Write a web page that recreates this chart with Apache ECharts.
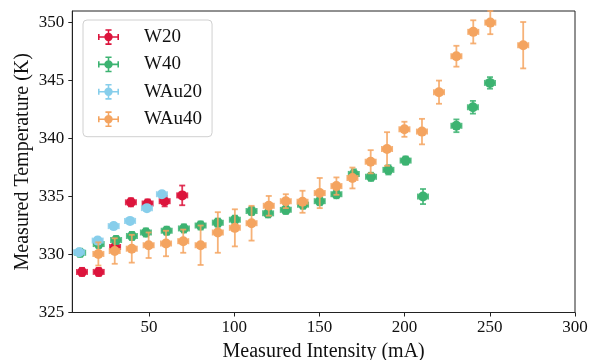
<!DOCTYPE html>
<html>
<head>
<meta charset="utf-8">
<script src="https://cdn.jsdelivr.net/npm/echarts@6/dist/echarts.min.js"></script>
<style>html,body{margin:0;padding:0;background:#fff;}#c{width:590px;height:360px;}</style>
</head>
<body>
<div id="c"></div>
<script>
// ---- data ----
const seriesNames = ['W20', 'W40', 'WAu20', 'WAu40'];

const w20X    = [10.7, 20.5, 30.1, 39.4, 49.2, 59.2, 69.5];
const w20Y    = [328.5, 328.5, 330.65, 334.5, 334.4, 334.6, 335.1];
const w20XErr = [3, 3, 3, 3, 3, 3, 3];
const w20YErr = [0.35, 0.35, 0.35, 0.35, 0.35, 0.45, 0.85];

const w40X    = [9.6, 20.5, 30.7, 40, 48.2, 60.4, 70.5, 80.3, 90.4, 100.4, 110.2, 119.9, 130.3, 140.4, 150.2, 160, 170.2, 180.3, 190.5, 200.6, 210.8, 230.4, 240.1, 250.1];
const w40Y    = [330.15, 330.9, 331.25, 331.6, 331.9, 332.05, 332.25, 332.5, 332.75, 333.0, 333.75, 333.55, 333.85, 334.3, 334.6, 335.2, 336.95, 336.7, 337.3, 338.1, 335.0, 341.1, 342.7, 344.8];
const w40XErr = [3, 3, 3, 3, 3, 3, 3, 3, 3, 3, 3, 3, 3, 3, 3, 3, 3, 3, 3, 3, 3, 3, 3, 3];
const w40YErr = [0.35, 0.35, 0.35, 0.35, 0.35, 0.35, 0.35, 0.35, 0.35, 0.35, 0.35, 0.35, 0.35, 0.35, 0.35, 0.35, 0.4, 0.35, 0.4, 0.35, 0.65, 0.55, 0.55, 0.5];

const wau20X    = [9.0, 19.9, 29.3, 38.9, 48.8, 57.6];
const wau20Y    = [330.2, 331.2, 332.45, 332.9, 334.0, 335.2];
const wau20XErr = [3, 3, 3, 3, 3, 3];
const wau20YErr = [0.25, 0.25, 0.25, 0.25, 0.25, 0.25];

const wau40X    = [20.3, 29.9, 39.9, 49.8, 60, 70.1, 80.3, 90.4, 100.4, 110.2, 120.3, 130.3, 140.1, 150.2, 160, 169.4, 180.1, 189.7, 199.9, 210.2, 220.2, 230.4, 240.3, 250.3, 269.6];
const wau40Y    = [330.05, 330.3, 330.5, 330.8, 330.95, 331.15, 330.8, 331.9, 332.3, 332.7, 334.2, 334.6, 334.55, 335.3, 335.9, 336.6, 338.0, 339.1, 340.8, 340.6, 344.0, 347.1, 349.2, 350.0, 348.05];
const wau40XErr = [3, 3, 3, 3, 3, 3, 3, 3, 3, 3, 3, 3, 3, 3, 3, 3, 3, 3, 3, 3, 3, 3, 3, 3, 3];
const wau40YErr = [1.0, 1.1, 1.2, 1.1, 1.1, 1.0, 1.7, 1.75, 1.6, 1.5, 0.85, 0.6, 0.95, 1.3, 0.75, 0.9, 1.0, 1.45, 0.65, 1.1, 1.0, 0.9, 1.0, 1.0, 2.0];

const xTicks = [50, 100, 150, 200, 250, 300];
const yTicks = [325, 330, 335, 340, 345, 350];

// ---- chart ----
const colors = ['#DC143C', '#3CB371', '#87CEEB', '#F4A460'];
const FONT = '"Liberation Serif", "Times New Roman", serif';

function build(x, y, xe, ye) {
  return x.map((v, i) => [v, y[i], xe[i], ye[i]]);
}
const allData = [
  build(w20X, w20Y, w20XErr, w20YErr),
  build(w40X, w40Y, w40XErr, w40YErr),
  build(wau20X, wau20Y, wau20XErr, wau20YErr),
  build(wau40X, wau40Y, wau40XErr, wau40YErr)
];

const legendIcon = 'path://M0 8.1h24v1.8h-24Z M0 5.5h1.8v7h-1.8Z M22.2 5.5h1.8v7h-1.8Z M11.1 0h1.8v18h-1.8Z M8.5 0h7v1.8h-7Z M8.5 16.2h7v1.8h-7Z M16.8 9A4.8 4.8 0 1 1 7.2 9A4.8 4.8 0 1 1 16.8 9Z';

function makeRender(color) {
  return function (params, api) {
    const x = api.value(0), y = api.value(1), xe = api.value(2), ye = api.value(3);
    const p = api.coord([x, y]);
    const pl = api.coord([x - xe, y]);
    const pr = api.coord([x + xe, y]);
    const pt = api.coord([x, y + ye]);
    const pb = api.coord([x, y - ye]);
    const cap = 3;
    const ls = { stroke: color, lineWidth: 1.8, opacity: 0.85 };
    return {
      type: 'group',
      children: [
        { type: 'line', shape: { x1: pl[0], y1: p[1], x2: pr[0], y2: p[1] }, style: ls },
        { type: 'line', shape: { x1: p[0], y1: pt[1], x2: p[0], y2: pb[1] }, style: ls },
        { type: 'line', shape: { x1: pl[0], y1: p[1] - cap, x2: pl[0], y2: p[1] + cap }, style: ls },
        { type: 'line', shape: { x1: pr[0], y1: p[1] - cap, x2: pr[0], y2: p[1] + cap }, style: ls },
        { type: 'line', shape: { x1: p[0] - cap, y1: pt[1], x2: p[0] + cap, y2: pt[1] }, style: ls },
        { type: 'line', shape: { x1: p[0] - cap, y1: pb[1], x2: p[0] + cap, y2: pb[1] }, style: ls },
        { type: 'circle', shape: { cx: p[0], cy: p[1], r: 5 }, style: { fill: color } }
      ]
    };
  };
}

const chart = echarts.init(document.getElementById('c'), null, { renderer: 'canvas' });
chart.setOption({
  animation: false,
  backgroundColor: '#fff',
  textStyle: { fontFamily: FONT },
  grid: { left: 72.3, right: 15, top: 11, bottom: 47.5, outerBoundsMode: 'none', containLabel: false, show: true, borderColor: '#222', borderWidth: 1, backgroundColor: 'transparent' },
  legend: {
    orient: 'vertical', left: 83, top: 20,
    data: seriesNames.map(n => ({ name: n, icon: legendIcon })),
    itemWidth: 21, itemHeight: 16, itemGap: 8.4,
    padding: [7.5, 10, 8, 15],
    borderColor: '#d0d0d0', borderWidth: 1, borderRadius: 4,
    textStyle: { fontFamily: FONT, fontSize: 19, color: '#111', padding: [0, 0, 0, 20] }
  },
  xAxis: {
    type: 'value', min: 5, max: 300,
    name: 'Measured Intensity (mA)', nameLocation: 'middle', nameGap: 29, nameMoveOverlap: false,
    nameTextStyle: { fontFamily: FONT, fontSize: 20, color: '#111' },
    axisLine: { show: true, lineStyle: { color: '#222', width: 1 } },
    axisTick: { show: true, length: 4, lineStyle: { color: '#222' }, customValues: xTicks },
    axisLabel: { fontFamily: FONT, fontSize: 17, color: '#111', margin: 7, customValues: xTicks },
    splitLine: { show: false }
  },
  yAxis: {
    type: 'value', min: 325, max: 351,
    name: 'Measured Temperature (K)', nameLocation: 'middle', nameGap: 40, nameMoveOverlap: false,
    nameTextStyle: { fontFamily: FONT, fontSize: 20, color: '#111' },
    axisLine: { show: true, lineStyle: { color: '#222', width: 1 } },
    axisTick: { show: true, length: 4, lineStyle: { color: '#222' }, customValues: yTicks },
    axisLabel: { fontFamily: FONT, fontSize: 17, color: '#111', margin: 8, customValues: yTicks },
    splitLine: { show: false }
  },
  series: seriesNames.map((n, i) => ({
    name: n,
    type: 'custom',
    itemStyle: { color: colors[i] },
    encode: { x: 0, y: 1 },
    data: allData[i],
    renderItem: makeRender(colors[i]),
    z: 2 + i
  }))
});
</script>
</body>
</html>
